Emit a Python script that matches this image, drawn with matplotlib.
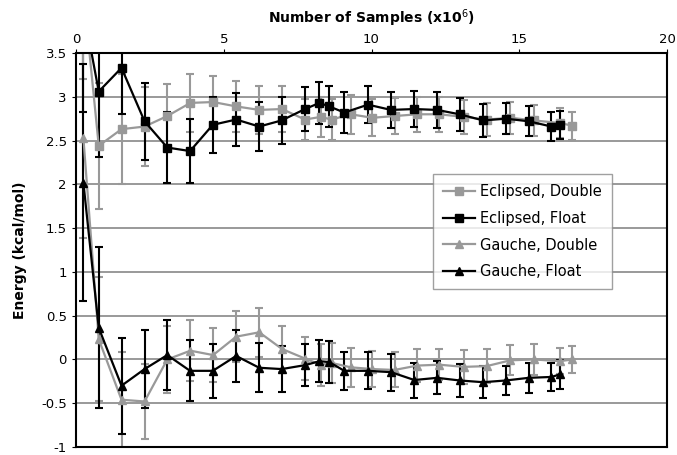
import matplotlib
matplotlib.use("Agg")
import matplotlib.pyplot as plt
from matplotlib.lines import Line2D

# x positions (millions of samples)
x_double = [0.25, 0.77, 1.54, 2.32, 3.09, 3.87, 4.64, 5.42, 6.20, 6.97, 7.75, 8.28,
            8.65, 9.30, 10.03, 10.78, 11.55, 12.30, 13.12, 13.90, 14.70, 15.50, 16.37, 16.80]
x_float = [0.25, 0.77, 1.54, 2.32, 3.09, 3.86, 4.63, 5.42, 6.20, 6.96, 7.75, 8.24,
           8.57, 9.08, 9.88, 10.66, 11.45, 12.22, 12.98, 13.78, 14.55, 15.32, 16.09, 16.38]

ecl_double = [4.20, 2.44, 2.63, 2.66, 2.78, 2.93, 2.94, 2.89, 2.85, 2.86, 2.74, 2.77,
              2.74, 2.80, 2.76, 2.78, 2.80, 2.80, 2.77, 2.74, 2.76, 2.73, 2.70, 2.67]
ecl_double_err = [1.00, 0.72, 0.63, 0.45, 0.37, 0.33, 0.30, 0.29, 0.27, 0.26, 0.23, 0.23,
                  0.23, 0.22, 0.21, 0.21, 0.20, 0.20, 0.19, 0.19, 0.18, 0.18, 0.17, 0.16]

ecl_float = [4.00, 3.06, 3.33, 2.72, 2.42, 2.38, 2.68, 2.74, 2.66, 2.73, 2.86, 2.93,
             2.89, 2.82, 2.91, 2.85, 2.86, 2.85, 2.80, 2.73, 2.75, 2.72, 2.66, 2.68]
ecl_float_err = [1.17, 0.75, 0.53, 0.44, 0.41, 0.37, 0.32, 0.30, 0.28, 0.27, 0.25, 0.24,
                 0.235, 0.23, 0.21, 0.21, 0.21, 0.21, 0.19, 0.19, 0.18, 0.17, 0.17, 0.16]

gau_double = [2.53, 0.23, -0.46, -0.48, 0.00, 0.10, 0.05, 0.26, 0.31, 0.12, 0.01, -0.06,
              -0.04, -0.09, -0.11, -0.12, -0.07, -0.06, -0.085, -0.076, -0.01, 0.00, -0.02, 0.00]
gau_double_err = [1.14, 0.71, 0.55, 0.43, 0.38, 0.35, 0.31, 0.29, 0.28, 0.26, 0.25, 0.24,
                  0.23, 0.22, 0.21, 0.20, 0.19, 0.18, 0.19, 0.19, 0.17, 0.18, 0.15, 0.155]

gau_float = [2.02, 0.36, -0.30, -0.11, 0.05, -0.13, -0.13, 0.04, -0.095, -0.11, -0.065, -0.02,
             -0.03, -0.13, -0.13, -0.145, -0.235, -0.21, -0.24, -0.26, -0.24, -0.21, -0.20, -0.17]
gau_float_err = [1.35, 0.92, 0.55, 0.45, 0.40, 0.35, 0.31, 0.30, 0.28, 0.26, 0.24, 0.24,
                 0.235, 0.22, 0.21, 0.21, 0.20, 0.19, 0.19, 0.18, 0.17, 0.17, 0.165, 0.165]

labels = ["Eclipsed, Double", "Eclipsed, Float", "Gauche, Double", "Gauche, Float"]
x_ticks = [0, 5, 10, 15, 20]
y_ticks = [-1, -0.5, 0, 0.5, 1, 1.5, 2, 2.5, 3, 3.5]

plt.rcParams['font.family'] = ['DejaVu Sans']
GRAY = '#999999'
fig = plt.figure(figsize=(6.77, 4.55), dpi=100)
ax = fig.add_axes([76/677, 1-447/455, (667-76)/677, (447-53)/455])

series = [
    (x_double, ecl_double, ecl_double_err, GRAY, 's', labels[0]),
    (x_float, ecl_float, ecl_float_err, 'black', 's', labels[1]),
    (x_double, gau_double, gau_double_err, GRAY, '^', labels[2]),
    (x_float, gau_float, gau_float_err, 'black', '^', labels[3]),
]
handles = []
for xs, ys, es, c, m, lab in series:
    ax.errorbar(xs, ys, yerr=es, color=c, ecolor=c, marker=m, markersize=6,
                linewidth=1.6, elinewidth=1.5, capsize=3, capthick=1.5)
    handles.append(Line2D([], [], color=c, marker=m, markersize=6, linewidth=1.6, label=lab))

ax.set_xlim(0, 20)
ax.set_ylim(-1, 3.5)
ax.set_xticks(x_ticks)
ax.set_yticks(y_ticks)
ax.set_yticklabels([f"{t:g}" for t in y_ticks])
ax.xaxis.tick_top()
ax.xaxis.set_label_position('top')
ax.tick_params(axis='both', labelsize=9.5, length=3, width=0.8)
ax.tick_params(axis='x', pad=2)
ax.set_xlabel("Number of Samples (x10$^{6}$)", fontsize=10, fontweight='bold', labelpad=7)
ax.set_ylabel("Energy (kcal/mol)", fontsize=10, fontweight='bold', labelpad=10)
ax.yaxis.grid(True, color='#888888', linewidth=1.2)
ax.set_axisbelow(True)
for s in ax.spines.values():
    s.set_linewidth(1.5)
    s.set_color('black')

leg = ax.legend(handles=handles, loc='upper left',
                bbox_to_anchor=((433-76)/591, 1-(174-53)/394),
                fontsize=10.5, frameon=True, fancybox=False, edgecolor='#888888',
                handlelength=2.2, borderpad=0.7, labelspacing=0.8, handletextpad=0.3,
                borderaxespad=0)
leg.get_frame().set_linewidth(1.0)

fig.savefig("out.png", dpi=100)
